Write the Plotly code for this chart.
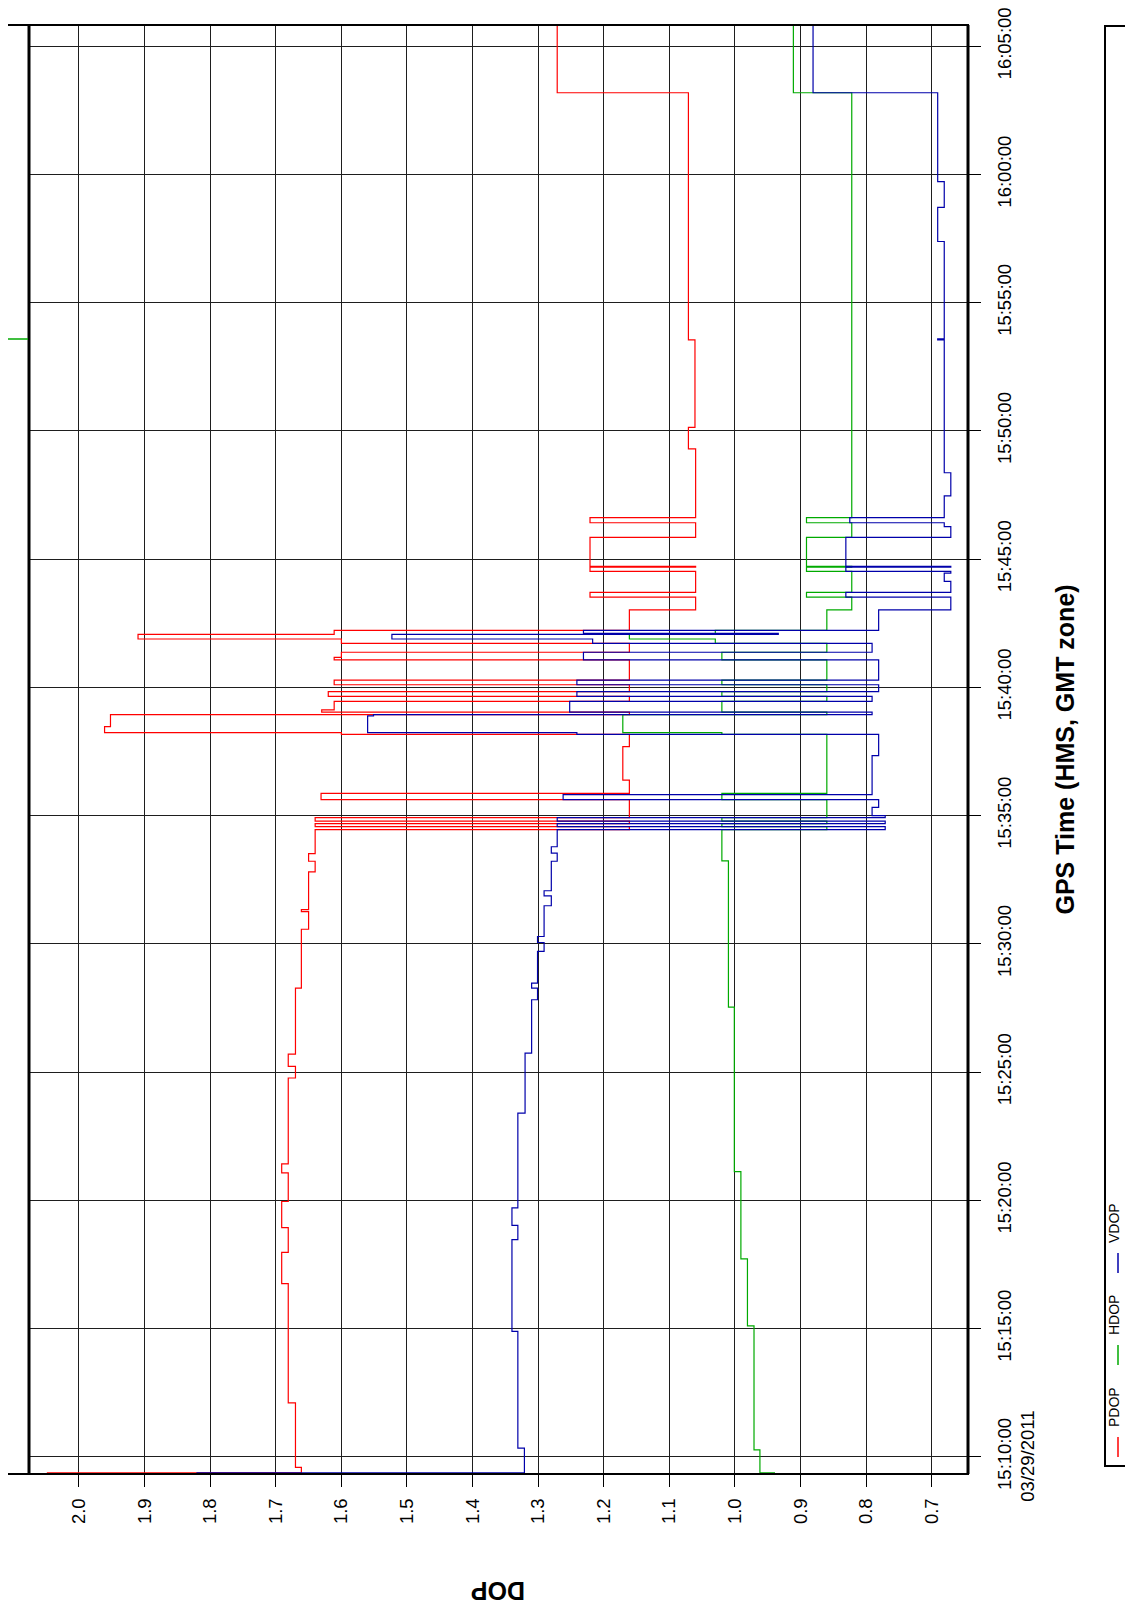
import plotly.graph_objects as go

DATE = "2011-03-29"

# ---------------- data (step series: value holds from its time to the next time) ----------------
pdop_time = ["15:09:22", "15:09:22", "15:09:35", "15:12:06", "15:16:45", "15:17:58", "15:18:56", "15:19:57",
             "15:21:04", "15:21:25", "15:24:46", "15:25:13", "15:25:42", "15:28:16", "15:30:34", "15:31:15",
             "15:31:20", "15:32:48", "15:33:13", "15:33:31", "15:34:27", "15:34:34", "15:34:41", "15:34:47",
             "15:34:55", "15:35:37", "15:35:52", "15:36:23", "15:37:41", "15:38:10", "15:38:14", "15:38:28",
             "15:38:56", "15:39:02", "15:39:07", "15:39:27", "15:39:39", "15:39:50", "15:40:06", "15:40:17",
             "15:41:04", "15:41:10", "15:41:22", "15:41:43", "15:41:53", "15:42:04", "15:42:13", "15:43:01",
             "15:43:31", "15:43:42", "15:44:31", "15:44:41", "15:44:43", "15:45:51", "15:46:25", "15:46:37",
             "15:49:18", "15:50:08", "15:53:33", "16:03:11", "16:05:49"]
pdop_value = [2.049, 1.661, 1.670, 1.681, 1.691, 1.681, 1.691, 1.681,
              1.691, 1.681, 1.670, 1.681, 1.670, 1.661, 1.650, 1.661,
              1.650, 1.640, 1.650, 1.640, 1.161, 1.640, 1.161, 1.640,
              1.161, 1.631, 1.161, 1.171, 1.161, 1.600, 1.961, 1.952,
              1.161, 1.630, 1.611, 1.161, 1.620, 1.161, 1.611, 1.161,
              1.611, 1.600, 1.161, 1.600, 1.910, 1.611, 1.161, 1.060,
              1.221, 1.060, 1.221, 1.060, 1.221, 1.060, 1.221, 1.060,
              1.071, 1.061, 1.071, 1.271, 1.271]

hdop_time = ["15:09:22", "15:09:22", "15:10:16", "15:15:06", "15:17:43", "15:21:07", "15:27:32", "15:33:14",
             "15:34:27", "15:34:34", "15:34:41", "15:34:47", "15:34:55", "15:35:37", "15:35:52", "15:38:10",
             "15:38:14", "15:38:56", "15:39:02", "15:39:27", "15:39:39", "15:39:50", "15:40:06", "15:40:17",
             "15:41:04", "15:41:22", "15:41:43", "15:41:53", "15:42:04", "15:42:13", "15:43:01", "15:43:31",
             "15:43:42", "15:44:31", "15:44:41", "15:44:43", "15:45:51", "15:46:25", "15:46:37", "16:03:11",
             "16:05:49"]
hdop_value = [0.939, 0.962, 0.971, 0.981, 0.991, 1.001, 1.010, 1.020,
              0.860, 1.020, 0.860, 1.020, 0.860, 1.020, 0.860, 1.020,
              1.171, 0.860, 1.020, 0.860, 1.020, 0.860, 1.020, 0.860,
              1.020, 0.860, 1.030, 1.161, 1.030, 0.860, 0.822, 0.891,
              0.822, 0.891, 0.822, 0.891, 0.822, 0.891, 0.822, 0.911,
              0.911]

vdop_time = ["15:09:22", "15:09:22", "15:10:20", "15:14:53", "15:18:28", "15:19:01", "15:19:42", "15:23:24",
             "15:25:44", "15:27:49", "15:28:16", "15:28:28", "15:29:42", "15:30:03", "15:30:17", "15:31:29",
             "15:31:52", "15:32:04", "15:33:13", "15:33:32", "15:33:47", "15:34:27", "15:34:34", "15:34:41",
             "15:34:47", "15:34:55", "15:35:00", "15:35:19", "15:35:37", "15:35:49", "15:37:20", "15:38:10",
             "15:38:14", "15:38:53", "15:38:56", "15:39:02", "15:39:27", "15:39:39", "15:39:50", "15:40:06",
             "15:40:17", "15:41:04", "15:41:22", "15:41:43", "15:41:53", "15:42:04", "15:42:06", "15:42:13",
             "15:43:01", "15:43:31", "15:43:42", "15:44:08", "15:44:27", "15:44:31", "15:44:41", "15:44:43",
             "15:45:51", "15:46:16", "15:46:25", "15:46:37", "15:47:28", "15:48:22", "15:53:33", "15:53:35",
             "15:57:23", "15:58:43", "15:59:43", "16:03:11", "16:05:49"]
vdop_value = [1.821, 1.321, 1.331, 1.340, 1.331, 1.340, 1.331, 1.320,
              1.310, 1.301, 1.310, 1.301, 1.291, 1.301, 1.291, 1.280,
              1.291, 1.280, 1.271, 1.280, 1.271, 0.771, 1.271, 0.771,
              1.271, 0.771, 0.791, 0.781, 1.262, 0.791, 0.781, 1.241,
              1.560, 1.551, 0.791, 1.252, 0.791, 1.241, 0.781, 1.241,
              0.781, 1.231, 0.791, 1.217, 1.523, 0.934, 1.231, 0.781,
              0.671, 0.831, 0.671, 0.681, 0.671, 0.831, 0.671, 0.831,
              0.671, 0.681, 0.825, 0.681, 0.671, 0.681, 0.691, 0.681,
              0.691, 0.681, 0.691, 0.881, 0.881]

series_names = ["PDOP", "HDOP", "VDOP"]
series_colors = ["#ff0000", "#00aa00", "#0000aa"]

dop_ticks = [2.0, 1.9, 1.8, 1.7, 1.6, 1.5, 1.4, 1.3, 1.2, 1.1, 1.0, 0.9, 0.8, 0.7]
dop_tick_labels = ["2.0", "1.9", "1.8", "1.7", "1.6", "1.5", "1.4", "1.3", "1.2", "1.1", "1.0", "0.9", "0.8", "0.7"]
time_ticks = ["15:10:00", "15:15:00", "15:20:00", "15:25:00", "15:30:00", "15:35:00", "15:40:00",
              "15:45:00", "15:50:00", "15:55:00", "16:00:00", "16:05:00"]
time_tick_labels = ["15:10:00", "15:15:00", "15:20:00", "15:25:00", "15:30:00", "15:35:00",
                    "15:40:00", "15:45:00", "15:50:00", "15:55:00", "16:00:00", "16:05:00"]
date_label = "03/29/2011"
time_range = ["15:09:19.5", "16:05:49.5"]
dop_range = [2.0762, 0.6448]

# ---------------- figure geometry (window px = figure px + 8 px body margin) ----------------
OFF = 8
W, H = 1133 - 2 * OFF, 1612 - 2 * OFF
ML, MT = 29 - OFF, 25 - OFF
MR = W - (968 - OFF)
MB = H - (1474 - OFF)
PW, PH = W - ML - MR, H - MT - MB


def px_x(X):
    return (X - OFF - ML) / PW


def px_y(Y):
    return (H - MB - (Y - OFF)) / PH


FONT = "Liberation Sans, Arial, sans-serif"
fig = go.Figure()

series = [(pdop_time, pdop_value), (hdop_time, hdop_value), (vdop_time, vdop_value)]
for (t, v), name, col in zip(series, series_names, series_colors):
    fig.add_trace(go.Scatter(
        x=v, y=[DATE + " " + s for s in t], mode="lines", name=name,
        line=dict(color=col, width=1.2, shape="vh"), hoverinfo="skip"))

fig.update_layout(
    width=W, height=H,
    margin=dict(l=ML, r=MR, t=MT, b=MB, pad=0, autoexpand=False),
    paper_bgcolor="white", plot_bgcolor="white",
    showlegend=False,
    font=dict(family=FONT, color="black"),
    xaxis=dict(
        range=dop_range, tickmode="array", tickvals=dop_ticks, ticktext=dop_tick_labels,
        tickangle=-90, ticks="outside", ticklen=12, tickcolor="black", tickwidth=1,
        showgrid=True, gridcolor="#1e1e1e", gridwidth=1, zeroline=False, showline=False,
        automargin=False, ticklabeloverflow="allow",
        tickfont=dict(size=18.5, family=FONT, color="black"), ticklabelstandoff=4),
    yaxis=dict(
        type="date", side="right",
        range=[DATE + " " + time_range[0], DATE + " " + time_range[1]],
        tickmode="array", tickvals=[DATE + " " + s for s in time_ticks], ticktext=time_tick_labels,
        tickangle=-90, ticks="outside", ticklen=12, tickcolor="black", tickwidth=1,
        showgrid=True, gridcolor="#1e1e1e", gridwidth=1, zeroline=False, showline=False,
        automargin=False, ticklabeloverflow="allow",
        tickfont=dict(size=18.5, family=FONT, color="black"), ticklabelstandoff=8),
)

shapes = [
    # outer frame (extends a bit left of the plot area)
    dict(type="rect", xref="paper", yref="paper", x0=px_x(7), x1=1, y0=0, y1=1,
         line=dict(color="black", width=2)),
    dict(type="line", xref="paper", yref="paper", x0=0, x1=0, y0=0, y1=1,
         line=dict(color="black", width=3)),
    dict(type="line", xref="paper", yref="paper", x0=1, x1=1, y0=0, y1=1,
         line=dict(color="black", width=3)),
    # small green tick in the left margin strip
    dict(type="line", xref="paper", yref="paper", x0=px_x(8), x1=px_x(28),
         y0=px_y(339), y1=px_y(339), line=dict(color="#00aa00", width=1.5)),
    # legend box
    dict(type="rect", xref="paper", yref="paper", x0=px_x(1105), x1=px_x(1145),
         y0=px_y(1466), y1=px_y(26), line=dict(color="black", width=2)),
]

annotations = [
    dict(text="<b>GPS Time (HMS, GMT zone)</b>", xref="paper", yref="paper",
         x=px_x(1064), y=0.5, xanchor="center", yanchor="middle", textangle=-90,
         showarrow=False, font=dict(size=25, family=FONT, color="black")),
    dict(text="<b>DOP</b>", xref="paper", yref="paper",
         x=0.5, y=px_y(1591), xanchor="center", yanchor="middle", textangle=180,
         showarrow=False, font=dict(size=25, family=FONT, color="black")),
    # date under the first time tick label
    dict(text=date_label, xref="paper", yref="y",
         x=px_x(1028), y=DATE + " " + time_ticks[0], xanchor="center", yanchor="middle",
         textangle=-90, showarrow=False, font=dict(size=18.5, family=FONT, color="black")),
]

# rotated legend entries
for i, (name, col) in enumerate(zip(series_names, series_colors)):
    yc = 1447 - 92 * i
    shapes.append(dict(type="line", xref="paper", yref="paper",
                       x0=px_x(1118), x1=px_x(1118), y0=px_y(yc + 10), y1=px_y(yc - 10),
                       line=dict(color=col, width=1.5)))
    annotations.append(dict(text=name, xref="paper", yref="paper",
                            x=px_x(1114), y=px_y(yc - 40), xanchor="center", yanchor="middle",
                            textangle=-90, showarrow=False, borderpad=0,
                            font=dict(size=14, family=FONT, color="black")))

fig.update_layout(shapes=shapes, annotations=annotations)
fig.write_html("out.html")
